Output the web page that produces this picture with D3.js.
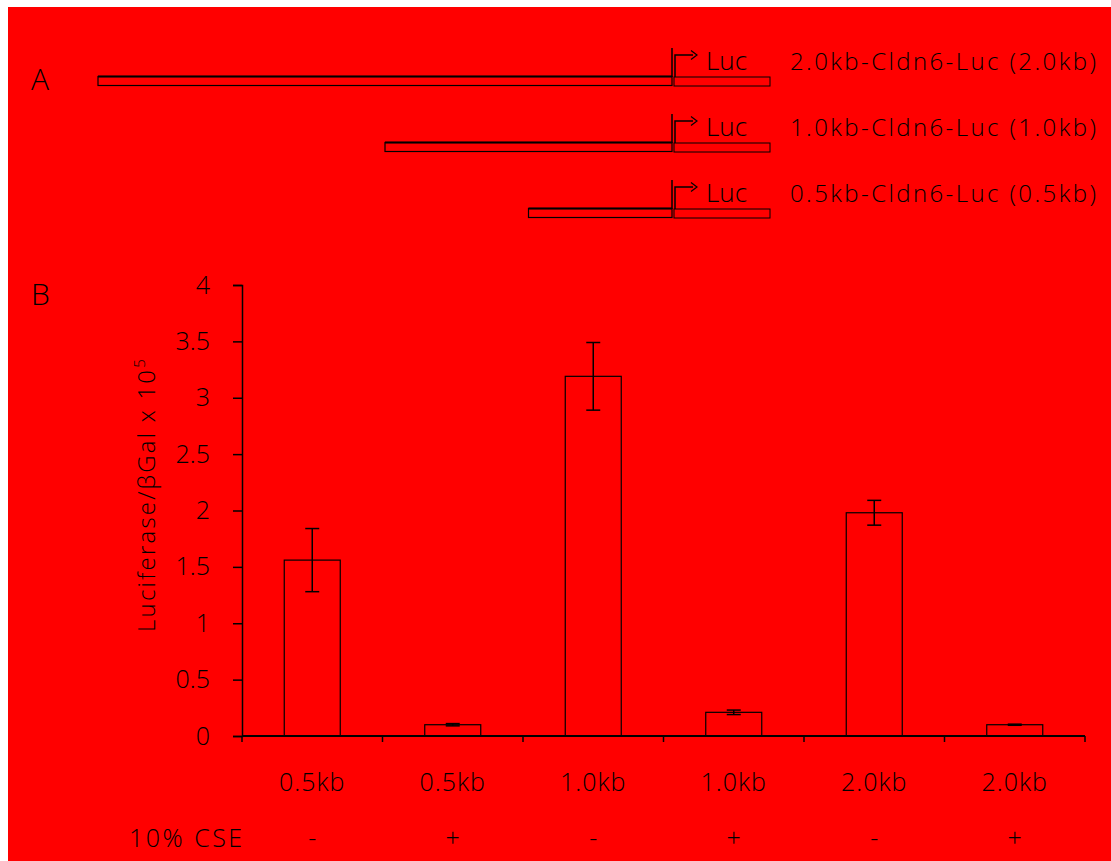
<!DOCTYPE html>
<html>
<head>
<meta charset="utf-8">
<script src="https://cdn.jsdelivr.net/npm/d3@7"></script>
<style>
  body { margin: 0; background: #fff; }
  svg text { font-family: "Open Sans", "Lato", sans-serif; fill: #000; }
</style>
</head>
<body>
<div id="chart"></div>
<script>
// panel A: promoter constructs
var constructs = ['2.0kb-Cldn6-Luc (2.0kb)', '1.0kb-Cldn6-Luc (1.0kb)', '0.5kb-Cldn6-Luc (0.5kb)'];
var promoterKb = [2.0, 1.0, 0.5];

// panel B: bars
var categories = ['0.5kb', '0.5kb', '1.0kb', '1.0kb', '2.0kb', '2.0kb'];
var cse = ['-', '+', '-', '+', '-', '+'];
var values = [1.56, 0.10, 3.19, 0.21, 1.98, 0.10];
var errors = [0.28, 0.01, 0.30, 0.02, 0.11, 0.005];
var yTicks = [0, 0.5, 1, 1.5, 2, 2.5, 3, 3.5, 4];

var W = 1111, H = 861;

var svg = d3.select('#chart').append('svg')
  .attr('width', W)
  .attr('height', H);

svg.append('rect')
  .attr('x', 8).attr('y', 7)
  .attr('width', W - 8).attr('height', H - 7)
  .attr('fill', '#ff0000');

//PANEL A
svg.append('text').attr('x', 31).attr('y', 90).attr('font-size', 30).attr('font-weight', 300).text('A');

var kb = d3.scaleLinear().domain([0, 2]).range([672, 98]);
var rowY = d3.scaleBand().domain(constructs).range([48, 246]);

var rows = svg.append('g').selectAll('g')
  .data(constructs)
  .enter().append('g')
  .attr('transform', function(d){ return 'translate(0,' + rowY(d) + ')'; });

// promoter
rows.append('rect')
  .attr('x', function(d, i){ return kb(promoterKb[i]); })
  .attr('y', 28.5)
  .attr('width', function(d, i){ return kb(0) - kb(promoterKb[i]); })
  .attr('height', 9)
  .attr('fill', 'none')
  .attr('stroke', '#000')
  .attr('stroke-width', 1.2);
rows.append('line')
  .attr('x1', function(d, i){ return kb(promoterKb[i]); })
  .attr('x2', kb(0))
  .attr('y1', 28.5).attr('y2', 28.5)
  .attr('stroke', '#000').attr('stroke-width', 2);

// luc box
rows.append('rect')
  .attr('x', 674).attr('y', 29)
  .attr('width', 96).attr('height', 9)
  .attr('fill', 'none')
  .attr('stroke', '#000')
  .attr('stroke-width', 1);

// TSS line + bent arrow
rows.append('line')
  .attr('x1', 672).attr('x2', 672)
  .attr('y1', 0).attr('y2', 29)
  .attr('stroke', '#000').attr('stroke-width', 1.5);

rows.append('path')
  .attr('d', 'M675,29 V7 H693')
  .attr('fill', 'none')
  .attr('stroke', '#000').attr('stroke-width', 1.5);

rows.append('path')
  .attr('d', 'M691,2.5 L697,7 L691,11.5')
  .attr('fill', 'none')
  .attr('stroke', '#000').attr('stroke-width', 1.2);

rows.append('text')
  .attr('x', 706).attr('y', 22)
  .attr('font-size', 26)
  .attr('font-weight', 300)
  .text('Luc');

rows.append('text')
  .attr('x', 790).attr('y', 22)
  .attr('font-size', 24)
  .attr('font-weight', 300)
  .attr('letter-spacing', 2.4)
  .text(function(d){ return d; });

//PANEL B
svg.append('text').attr('x', 31).attr('y', 305).attr('font-size', 30).attr('font-weight', 300).text('B');

var x = d3.scaleBand().domain(d3.range(categories.length)).range([242, 1085]).paddingInner(0).paddingOuter(0);
var y = d3.scaleLinear().domain([0, 4]).range([736, 285]);
var barW = 56;

var g = svg.append('g');

// bars
g.selectAll('rect.bar')
  .data(values)
  .enter().append('rect')
  .attr('class', 'bar')
  .attr('x', function(d, i){ return x(i) + x.bandwidth() / 2 - barW / 2; })
  .attr('y', function(d){ return y(d); })
  .attr('width', barW)
  .attr('height', function(d){ return y(0) - y(d); })
  .attr('fill', 'none')
  .attr('stroke', '#000')
  .attr('stroke-width', 1.2);

// error bars
var eb = g.selectAll('g.err')
  .data(values)
  .enter().append('g')
  .attr('class', 'err')
  .attr('transform', function(d, i){ return 'translate(' + (x(i) + x.bandwidth() / 2) + ',0)'; });

eb.append('line')
  .attr('x1', 0).attr('x2', 0)
  .attr('y1', function(d, i){ return y(d + errors[i]); })
  .attr('y2', function(d, i){ return y(d - errors[i]); })
  .attr('stroke', '#000').attr('stroke-width', 1.5);

eb.append('line')
  .attr('x1', -7).attr('x2', 7)
  .attr('y1', function(d, i){ return y(d + errors[i]); })
  .attr('y2', function(d, i){ return y(d + errors[i]); })
  .attr('stroke', '#000').attr('stroke-width', 1.5);

eb.append('line')
  .attr('x1', -7).attr('x2', 7)
  .attr('y1', function(d, i){ return y(d - errors[i]); })
  .attr('y2', function(d, i){ return y(d - errors[i]); })
  .attr('stroke', '#000').attr('stroke-width', 1.5);

// y axis
var yAxis = d3.axisLeft(y).tickValues(yTicks).tickSize(9).tickPadding(23)
  .tickFormat(function(d){ return String(d); });
var ya = svg.append('g').attr('transform', 'translate(242,0)').call(yAxis);
ya.selectAll('path, line').attr('stroke', '#000').attr('stroke-width', 1.5);
ya.selectAll('text')
  .attr('font-size', 25)
  .attr('font-weight', 300)
  .attr('font-family', '"Open Sans", sans-serif')
  .attr('fill', '#000');

// x axis: boundary ticks
var bounds = d3.range(categories.length + 1).map(function(i){ return 242 + i * x.bandwidth(); });
svg.append('line')
  .attr('x1', 242).attr('x2', 1085)
  .attr('y1', y(0)).attr('y2', y(0))
  .attr('stroke', '#000').attr('stroke-width', 2);
svg.append('g').selectAll('line')
  .data(bounds)
  .enter().append('line')
  .attr('x1', function(d){ return d; }).attr('x2', function(d){ return d; })
  .attr('y1', y(0)).attr('y2', y(0) + 6)
  .attr('stroke', '#000').attr('stroke-width', 1.5);

svg.append('g').selectAll('text')
  .data(categories)
  .enter().append('text')
  .attr('x', function(d, i){ return x(i) + x.bandwidth() / 2; })
  .attr('y', 791)
  .attr('text-anchor', 'middle')
  .attr('font-size', 25)
  .attr('font-weight', 300)
  .attr('letter-spacing', 1)
  .text(function(d){ return d; });

svg.append('text')
  .attr('x', 129).attr('y', 847)
  .attr('font-size', 25)
  .attr('font-weight', 300)
  .attr('letter-spacing', 2.5)
  .text('10% CSE');

svg.append('g').selectAll('text')
  .data(cse)
  .enter().append('text')
  .attr('x', function(d, i){ return x(i) + x.bandwidth() / 2; })
  .attr('y', 847)
  .attr('text-anchor', 'middle')
  .attr('font-size', 25)
  .attr('font-weight', 300)
  .text(function(d){ return d; });

// y label
var yl = svg.append('text')
  .attr('transform', 'translate(155,' + ((y(0) + y(4)) / 2 - 16) + ') rotate(-90)')
  .attr('text-anchor', 'middle')
  .attr('font-size', 24)
  .attr('font-weight', 300)
  .attr('letter-spacing', 2.2);
yl.append('tspan').text('Luciferase/\u03b2Gal x 10');
yl.append('tspan').attr('dy', -10).attr('font-size', 15).text('5');
</script>
</body>
</html>
